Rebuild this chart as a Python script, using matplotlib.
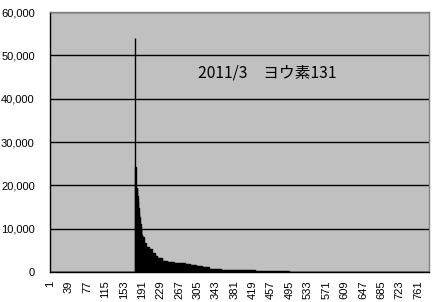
#Hourly iodine-131 bars, March 2011 (Excel-style chart)

import numpy as np
import matplotlib.pyplot as plt

n_cat = 783
lead_zeros = 175
# values after the onset, read as steps from the picture
run_values = [54000, 24300, 19300, 17500, 16500, 14700, 13500, 12800, 11000, 9700,
              8500, 8000, 6600, 5800, 5200, 4300, 3700, 3200, 2600, 2300,
              2050, 1850, 1550, 1300, 1050, 800, 560, 380, 250]
run_counts = [1, 1, 3, 1, 1, 1, 1, 1, 2, 2,
              2, 3, 4, 6, 6, 6, 6, 10, 10, 14,
              22, 12, 12, 12, 14, 26, 30, 40, 70]
title_text = "2011/3\u3000ヨウ素131"
yticks = [0, 10000, 20000, 30000, 40000, 50000, 60000]

vals = np.concatenate([np.zeros(lead_zeros), np.repeat(run_values, run_counts)])
vals = np.concatenate([vals, np.zeros(n_cat - len(vals))])
pos = np.arange(n_cat)

fig = plt.figure(figsize=(4.34, 3.02), dpi=100)
ax = fig.add_axes([50 / 434, 30 / 302, 379 / 434, 260 / 302])
ax.set_facecolor('#C0C0C0')
ax.set_axisbelow(True)
ax.bar(pos, vals, width=1.0, color='black', edgecolor='black', linewidth=1.0)

ax.set_xlim(-0.5, n_cat - 0.5)
ax.set_ylim(0, 60000)
ax.set_yticks(yticks)
ax.set_yticklabels(['{:,}'.format(v) for v in yticks])
ax.grid(axis='y', color='black', linewidth=1.0)

xt = pos[::38]
ax.set_xticks(xt)
ax.set_xticklabels([str(i + 1) for i in xt], rotation=90)
ax.tick_params(axis='both', length=0, labelsize=8, labelcolor='black')
ax.tick_params(axis='y', pad=11)
ax.tick_params(axis='x', pad=6)
for lab in ax.get_xticklabels() + ax.get_yticklabels():
    lab.set_family(['Liberation Sans', 'DejaVu Sans'])

for s in ['left', 'bottom']:
    ax.spines[s].set_color('black')
    ax.spines[s].set_linewidth(1.0)
for s in ['top', 'right']:
    ax.spines[s].set_color('#808080')
    ax.spines[s].set_linewidth(1.0)

ax.text(0.573, 0.765, title_text, transform=ax.transAxes, ha='center', va='center',
        fontsize=11.3, family=['Noto Sans CJK JP', 'DejaVu Sans'])

plt.savefig("out.png", dpi=100)
